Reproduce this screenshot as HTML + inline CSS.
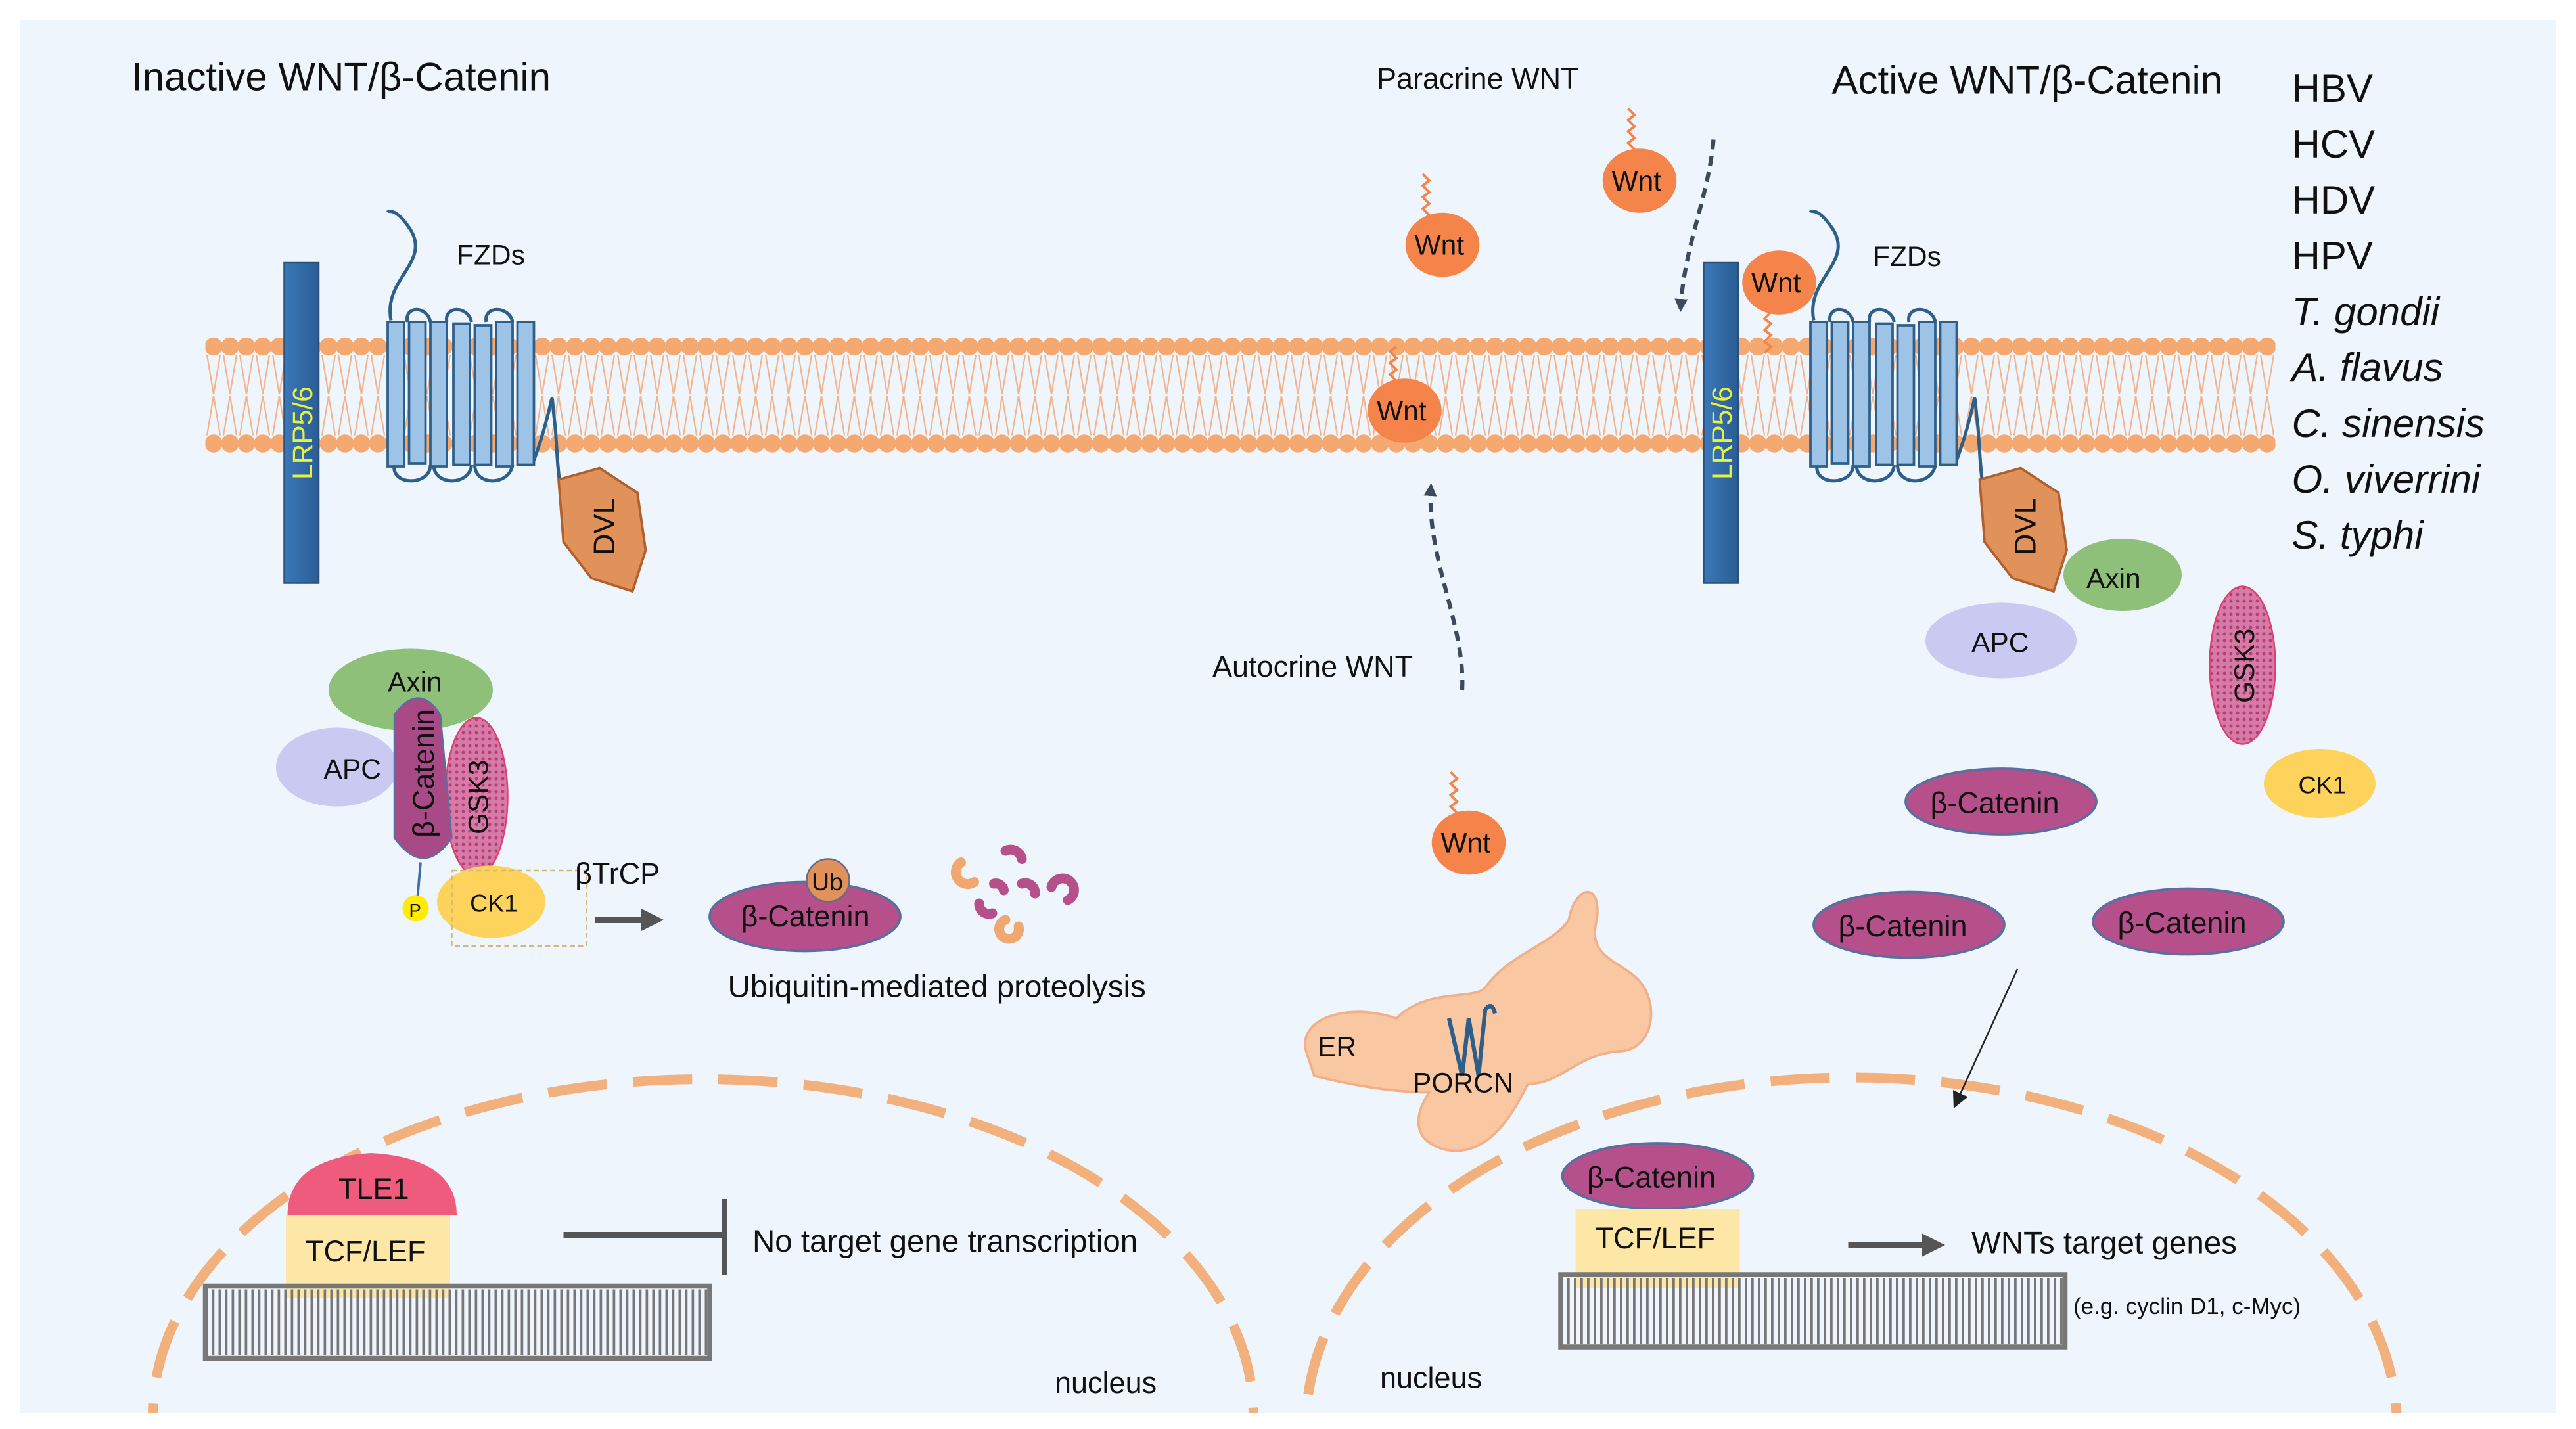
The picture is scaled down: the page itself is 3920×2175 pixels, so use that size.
<!DOCTYPE html>
<html><head><meta charset="utf-8"><style>
html,body{margin:0;padding:0;background:#fff;width:3920px;height:2175px;overflow:hidden;position:relative}
svg{display:block;position:absolute;left:0;top:0;overflow:hidden}
text{font-family:"Liberation Sans",sans-serif;fill:#111}
</style></head><body>
<svg width="3920" height="2175" viewBox="0 0 1568 870" xmlns="http://www.w3.org/2000/svg">
<defs>
<pattern id="lip" patternUnits="userSpaceOnUse" x="125" y="203" width="10" height="75">
<polyline points="1,13 5,37 9,13" fill="none" stroke="#f2b48c" stroke-width="0.9"/>
<polyline points="1,62 5,38 9,62" fill="none" stroke="#f2b48c" stroke-width="0.9"/>
<circle cx="5" cy="8" r="5.5" fill="#f5a970"/>
<circle cx="5" cy="67" r="5.5" fill="#f5a970"/>
</pattern>
<linearGradient id="lrp" x1="0" x2="1"><stop offset="0" stop-color="#3a78b8"/><stop offset="1" stop-color="#2a5d95"/></linearGradient>
<pattern id="hatch" patternUnits="userSpaceOnUse" width="4" height="4"><rect width="4" height="4" fill="#d87aa6"/><circle cx="2" cy="2" r="1" fill="#b0407a"/></pattern>
<marker id="ah" markerWidth="8" markerHeight="8" refX="6" refY="4" orient="auto" markerUnits="userSpaceOnUse"><path d="M0,0 L8,4 L0,8z" fill="#3d4a5c"/></marker>
<marker id="ag" markerWidth="14" markerHeight="14" refX="10" refY="7" orient="auto" markerUnits="userSpaceOnUse"><path d="M0,0 L14,7 L0,14z" fill="#555"/></marker>
<marker id="ab" markerWidth="10" markerHeight="10" refX="8" refY="5" orient="auto" markerUnits="userSpaceOnUse"><path d="M0,0 L10,5 L0,10z" fill="#222"/></marker>
<clipPath id="frame"><rect x="0" y="0" width="1568" height="860"/></clipPath>
</defs>
<rect x="12" y="12" width="1544" height="848" fill="#eef5fc"/>

<rect x="125" y="203" width="1260" height="75" fill="url(#lip)"/>

<g clip-path="url(#frame)">
<ellipse cx="428" cy="862" rx="335" ry="205" fill="none" stroke="#f2b07c" stroke-width="6" stroke-dasharray="36 16"/>
<ellipse cx="1127" cy="868" rx="332" ry="212" fill="none" stroke="#f2b07c" stroke-width="6" stroke-dasharray="36 16"/>
</g>

<text x="80" y="55" font-size="24">Inactive WNT/β-Catenin</text>
<text x="1115" y="57" font-size="24">Active WNT/β-Catenin</text>
<text x="838" y="54" font-size="18">Paracrine WNT</text>
<g font-size="24">
<text x="1395" y="62">HBV</text><text x="1395" y="96">HCV</text><text x="1395" y="130">HDV</text><text x="1395" y="164">HPV</text>
<g font-style="italic"><text x="1395" y="198">T. gondii</text><text x="1395" y="232">A. flavus</text><text x="1395" y="266">C. sinensis</text><text x="1395" y="300">O. viverrini</text><text x="1395" y="334">S. typhi</text></g>
</g>

<rect x="173" y="160" width="21" height="195" fill="url(#lrp)" stroke="#27507d" stroke-width="1"/>
<text transform="translate(190,292) rotate(-90)" font-size="17" style="fill:#e8f040">LRP5/6</text>
<g id="fzd">
<path d="M238,195 C233,170 262,160 250,140 C240,125 237,130 236,128" fill="none" stroke="#2e5f8a" stroke-width="2"/>
<path d="M248,196 C246,186 260,186 262,196 M272,196 C270,186 285,186 287,196 M296,196 C294,186 310,186 312,196 M240,283 C238,296 262,296 262,283 M264,283 C264,296 286,296 287,283 M289,283 C289,296 310,296 312,283 M324,283 C340,240 334,230 338,260 C340,290 340,300 345,300" fill="none" stroke="#2e5f8a" stroke-width="2"/>
<g fill="#9dc3e6" stroke="#2e5f8a" stroke-width="1.5">
<rect x="236" y="196" width="10" height="88"/><rect x="249" y="196" width="10" height="86"/><rect x="262" y="196" width="10" height="88"/><rect x="276" y="197" width="10" height="86"/><rect x="289" y="198" width="10" height="85"/><rect x="302" y="196" width="10" height="88"/><rect x="315" y="196" width="10" height="87"/>
</g>
</g>
<text x="278" y="161" font-size="17">FZDs</text>
<path d="M340,292 L365,285 L388,300 L393,335 L385,360 L360,352 L343,330 Z" fill="#e0925a" stroke="#b0602e" stroke-width="1.5"/>
<text transform="translate(374,338) rotate(-90)" font-size="18">DVL</text>

<rect x="1037" y="160" width="21" height="195" fill="url(#lrp)" stroke="#27507d" stroke-width="1"/>
<text transform="translate(1054,292) rotate(-90)" font-size="17" style="fill:#e8f040">LRP5/6</text>
<use href="#fzd" transform="translate(866,0)"/>
<text x="1140" y="162" font-size="17">FZDs</text>
<path d="M1205,292 L1230,285 L1253,300 L1258,335 L1250,360 L1225,352 L1208,330 Z" fill="#e0925a" stroke="#b0602e" stroke-width="1.5"/>
<text transform="translate(1239,338) rotate(-90)" font-size="18">DVL</text>

<g fill="#f4844a" stroke="#f4844a">
<ellipse cx="878" cy="149" rx="22" ry="19"/><ellipse cx="998" cy="110" rx="22" ry="19"/><ellipse cx="855" cy="250" rx="22" ry="19"/><ellipse cx="1083" cy="172" rx="22" ry="19"/><ellipse cx="894" cy="513" rx="22" ry="19"/>
</g>
<g fill="none" stroke="#f4844a" stroke-width="1.5">
<path d="M870,131 l-4,-4 l4,-3 l-4,-4 l4,-3 l-4,-4 l4,-3 l-4,-4"/>
<path d="M995,91 l-4,-4 l4,-3 l-4,-4 l4,-3 l-4,-4 l4,-3 l-4,-4"/>
<path d="M850,232 l-4,-4 l4,-3 l-4,-4 l4,-3 l-4,-4 l4,-3"/>
<path d="M1078,190 l-4,4 l4,3 l-4,4 l4,3 l-4,4 l4,3 l-4,4"/>
<path d="M887,495 l-4,-4 l4,-3 l-4,-4 l4,-3 l-4,-4 l4,-3 l-4,-4"/>
</g>
<g font-size="17"><text x="861" y="155">Wnt</text><text x="981" y="116">Wnt</text><text x="838" y="256">Wnt</text><text x="1066" y="178">Wnt</text><text x="877" y="519">Wnt</text></g>

<path d="M1043,85 C1040,120 1025,150 1023,188" fill="none" stroke="#3d4a5c" stroke-width="2.5" stroke-dasharray="6 4" marker-end="url(#ah)"/>
<path d="M890,420 C892,380 868,340 871,296" fill="none" stroke="#3d4a5c" stroke-width="2.5" stroke-dasharray="6 4" marker-end="url(#ah)"/>
<text x="738" y="412" font-size="18">Autocrine WNT</text>

<ellipse cx="250" cy="420" rx="50" ry="25" fill="#8ec07a"/>
<ellipse cx="205" cy="467" rx="37" ry="24" fill="#c9c9f2"/>
<text x="197" y="474" font-size="17">APC</text>
<text x="236" y="421" font-size="17">Axin</text>
<ellipse cx="290" cy="485" rx="19" ry="48" fill="url(#hatch)" stroke="#e04070" stroke-width="1"/>
<text transform="translate(297,508) rotate(-90)" font-size="17">GSK3</text>
<path d="M240,435 Q255,415 268,435 L275,510 Q258,535 240,510 Z" fill="#a84a86" stroke="#5a6fa0" stroke-width="1"/>
<text transform="translate(264,510) rotate(-90)" font-size="18">β-Catenin</text>
<line x1="256" y1="525" x2="254" y2="548" stroke="#3a6ea8" stroke-width="1.5"/>
<ellipse cx="299" cy="549" rx="33" ry="22" fill="#fdd35c"/>
<text x="286" y="555" font-size="15">CK1</text>
<rect x="275" y="530" width="82" height="46" fill="none" stroke="#d4b87a" stroke-width="1" stroke-dasharray="3 2"/>
<circle cx="253" cy="553" r="8" fill="#ffec00"/>
<text x="249" y="558" font-size="11">P</text>
<text x="350" y="538" font-size="18">βTrCP</text>
<line x1="362" y1="560" x2="400" y2="560" stroke="#555" stroke-width="4" marker-end="url(#ag)"/>

<ellipse cx="490" cy="558" rx="58" ry="21" fill="#b5508a" stroke="#5a6fa0" stroke-width="1.5"/>
<circle cx="504" cy="536" r="13" fill="#e0925a" stroke="#6a6a80" stroke-width="1"/>
<text x="494" y="542" font-size="15">Ub</text>
<text x="451" y="564" font-size="18">β-Catenin</text>
<g fill="none" stroke-width="6" stroke-linecap="round">
<path d="M585,525 a7,7 0 1 0 8,12" stroke="#f0a870"/><path d="M612,518 a7,7 0 0 1 10,5" stroke="#b5508a"/><path d="M640,540 a7,7 0 1 1 10,8" stroke="#b5508a"/>
<path d="M596,550 a6,6 0 0 0 8,6" stroke="#b5508a"/><path d="M612,560 a6,6 0 1 0 8,4" stroke="#f0a870"/><path d="M622,538 a6,6 0 0 1 8,6" stroke="#b5508a"/><path d="M605,538 a5,5 0 0 1 6,4" stroke="#b5508a"/>
</g>
<text x="443" y="607" font-size="19">Ubiquitin-mediated  proteolysis</text>

<path d="M175,740 Q175,705 226,702 Q278,705 278,740 Z" fill="#ef5b7c"/>
<rect x="174" y="740" width="100" height="50" fill="#fde7a6"/>
<text x="206" y="730" font-size="18">TLE1</text>
<text x="186" y="768" font-size="18">TCF/LEF</text>
<rect x="125" y="783" width="307" height="44" fill="none" stroke="#777" stroke-width="3"/>
<line x1="125" y1="805" x2="432" y2="805" stroke="#777" stroke-width="40" stroke-dasharray="1.5 2.5"/>
<line x1="343" y1="752" x2="440" y2="752" stroke="#555" stroke-width="4"/>
<line x1="441" y1="730" x2="441" y2="776" stroke="#555" stroke-width="3"/>
<text x="458" y="762" font-size="19">No target gene transcription</text>
<text x="642" y="848" font-size="18">nucleus</text>

<path d="M795,640 C790,620 820,610 850,620 C870,600 900,610 905,600 C920,580 945,575 955,560 C958,540 975,535 972,560 C965,585 990,585 1000,600 C1010,615 1005,640 985,640 C960,642 950,660 930,660 C920,680 905,705 880,700 C860,695 860,680 870,665 C845,665 820,660 800,655 Z" fill="#f9c8a3" stroke="#f0b088" stroke-width="1.5"/>
<path d="M882,620 l8,35 l4,-35 l6,35 l4,-40 q4,-6 6,2" fill="none" stroke="#2e5f8a" stroke-width="2.5"/>
<text x="802" y="643" font-size="17">ER</text>
<text x="860" y="665" font-size="17">PORCN</text>

<ellipse cx="1292" cy="350" rx="36" ry="22" fill="#8ec07a"/>
<text x="1270" y="358" font-size="17">Axin</text>
<ellipse cx="1218" cy="390" rx="46" ry="23" fill="#c9c9f2"/>
<text x="1200" y="397" font-size="17">APC</text>
<ellipse cx="1365" cy="405" rx="20" ry="48" fill="url(#hatch)" stroke="#e04070" stroke-width="1"/>
<text transform="translate(1372,428) rotate(-90)" font-size="17">GSK3</text>
<ellipse cx="1412" cy="477" rx="34" ry="21" fill="#fdd35c"/>
<text x="1399" y="483" font-size="15">CK1</text>
<g fill="#b5508a" stroke="#5a6fa0" stroke-width="1.5">
<ellipse cx="1218" cy="488" rx="58" ry="20"/><ellipse cx="1162" cy="563" rx="58" ry="20"/><ellipse cx="1332" cy="561" rx="58" ry="20"/><ellipse cx="1009" cy="716" rx="58" ry="20"/>
</g>
<g font-size="18"><text x="1175" y="495">β-Catenin</text><text x="1119" y="570">β-Catenin</text><text x="1289" y="568">β-Catenin</text><text x="966" y="723">β-Catenin</text></g>
<line x1="1228" y1="590" x2="1190" y2="673" stroke="#222" stroke-width="1" marker-end="url(#ab)"/>

<rect x="959" y="736" width="100" height="48" fill="#fde7a6"/>
<text x="971" y="760" font-size="18">TCF/LEF</text>
<rect x="950" y="776" width="307" height="44" fill="none" stroke="#777" stroke-width="3"/>
<line x1="950" y1="798" x2="1257" y2="798" stroke="#777" stroke-width="40" stroke-dasharray="1.5 2.5"/>
<line x1="1125" y1="758" x2="1180" y2="758" stroke="#555" stroke-width="4" marker-end="url(#ag)"/>
<text x="1200" y="763" font-size="19">WNTs target genes</text>
<text x="1262" y="800" font-size="14">(e.g. cyclin D1, c-Myc)</text>
<text x="840" y="845" font-size="18">nucleus</text>
</svg>
</body></html>
